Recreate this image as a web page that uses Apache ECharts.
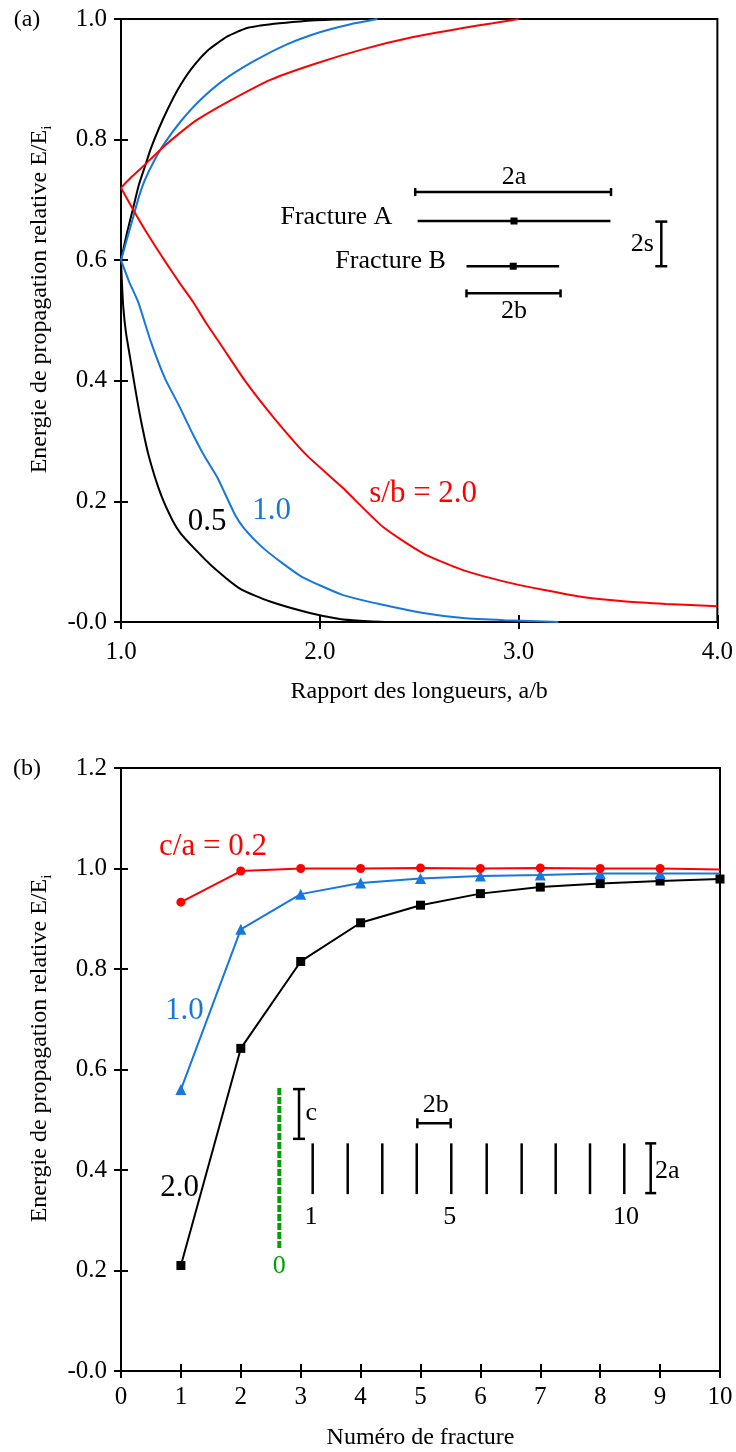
<!DOCTYPE html>
<html><head><meta charset="utf-8">
<script src="https://cdn.jsdelivr.net/npm/echarts@6/dist/echarts.min.js"></script>
<style>html,body{margin:0;padding:0;background:#fff}#c{width:736px;height:1452px}</style>
</head><body><div id="c"></div>
<script>
// ---------- Panel (a) data : a/b ratio vs relative energy ----------
const abBlackUp = [1.0, 1.03, 1.06, 1.09, 1.12, 1.15, 1.19, 1.234, 1.284, 1.351, 1.434, 1.535, 1.635, 1.77, 1.9, 2.07, 2.2];
const eBlackUp  = [0.6, 0.645, 0.685, 0.725, 0.755, 0.785, 0.818, 0.85, 0.882, 0.916, 0.947, 0.971, 0.985, 0.992, 0.996, 0.999, 1.0];
const abBlueUp  = [1.0, 1.03, 1.06, 1.09, 1.12, 1.167, 1.217, 1.30, 1.40, 1.518, 1.668, 1.835, 2.0, 2.15, 2.29];
const eBlueUp   = [0.6, 0.635, 0.67, 0.705, 0.733, 0.765, 0.793, 0.83, 0.866, 0.899, 0.93, 0.958, 0.978, 0.991, 1.0];
const abRedUp   = [1.0, 1.05, 1.1, 1.15, 1.217, 1.30, 1.384, 1.551, 1.751, 1.969, 2.22, 2.47, 2.72, 2.87, 3.0];
const eRedUp    = [0.72, 0.737, 0.752, 0.768, 0.789, 0.812, 0.833, 0.865, 0.899, 0.925, 0.95, 0.97, 0.985, 0.993, 1.0];
const abBlackLo = [1.0, 1.005, 1.012, 1.025, 1.045, 1.07, 1.1, 1.14, 1.2, 1.26, 1.3, 1.36, 1.46, 1.6, 1.75, 1.95, 2.1, 2.2, 2.33];
const eBlackLo  = [0.6, 0.56, 0.52, 0.48, 0.44, 0.39, 0.335, 0.275, 0.212, 0.168, 0.147, 0.125, 0.092, 0.055, 0.034, 0.015, 0.005, 0.002, 0.0];
const abBlueLo  = [1.0, 1.04, 1.087, 1.15, 1.22, 1.29, 1.362, 1.42, 1.484, 1.575, 1.62, 1.707, 1.81, 1.91, 2.114, 2.317, 2.52, 2.72, 2.93, 3.2];
const eBlueLo   = [0.6, 0.565, 0.53, 0.465, 0.405, 0.36, 0.311, 0.275, 0.24, 0.177, 0.155, 0.125, 0.098, 0.075, 0.045, 0.0285, 0.015, 0.0066, 0.003, 0.0];
const abRedLo   = [1.0, 1.059, 1.14, 1.226, 1.30, 1.362, 1.43, 1.504, 1.626, 1.768, 1.93, 2.114, 2.317, 2.52, 2.72, 2.93, 3.13, 3.33, 3.54, 3.74, 4.0];
const eRedLo    = [0.72, 0.685, 0.64, 0.596, 0.56, 0.531, 0.495, 0.459, 0.399, 0.339, 0.278, 0.223, 0.158, 0.114, 0.086, 0.067, 0.053, 0.041, 0.034, 0.03, 0.026];

// ---------- Panel (b) data : fracture number vs relative energy ----------
const fracNo = [1, 2, 3, 4, 5, 6, 7, 8, 9, 10];
const eCa02 = [0.933, 0.995, 1.0, 1.0, 1.001, 1.0, 1.001, 1.0, 1.0, 0.998];
const eCa10 = [0.56, 0.879, 0.949, 0.971, 0.98, 0.985, 0.987, 0.99, 0.99, 0.99];
const eCa20 = [0.21, 0.642, 0.815, 0.892, 0.927, 0.95, 0.963, 0.97, 0.975, 0.979];

// ---------- Text ----------
const xNameA = 'Rapport des longueurs, a/b';
const xNameB = 'Numéro de fracture';
const yName = 'Energie de propagation relative E/E{sub|i}';
const curveLabelsA = ['0.5', '1.0', 's/b = 2.0'];
const curveLabelsB = ['c/a = 0.2', '1.0', '2.0'];

const FONT = '"Liberation Serif", "Times New Roman", "DejaVu Serif", serif';
const RED = '#ff0000', BLUE = '#1677dd', BLACK = '#000000', GREEN = '#00a000';

const chart = echarts.init(document.getElementById('c'), null, {renderer: 'canvas', width: 736, height: 1452});
const zip = (xs, ys) => xs.map((x, i) => [x, ys[i]]);
const fmt1 = v => (Math.abs(v) < 1e-9 ? '-0.0' : v.toFixed(1));

function xAxes(gi, min, max, labFmt, name, nameGap, margin) {
  return [{
    gridIndex: gi, type: 'value', min, max, interval: 1, position: 'bottom',
    axisLine: {onZero: false, lineStyle: {color: '#000', width: 2}},
    axisTick: {show: true, length: 7, lineStyle: {color: '#000', width: 2}},
    axisLabel: {color: '#000', fontFamily: FONT, fontSize: 25, margin, formatter: labFmt},
    splitLine: {show: false},
    name, nameLocation: 'middle', nameGap,
    nameTextStyle: {color: '#000', fontFamily: FONT, fontSize: 24}
  }, {
    gridIndex: gi, type: 'value', min, max, interval: 1, position: 'bottom',
    axisLine: {show: false, onZero: false},
    axisTick: {show: true, inside: true, length: 7, lineStyle: {color: '#000', width: 2}},
    axisLabel: {show: false}, splitLine: {show: false}
  }];
}
function yAxes(gi, max) {
  return [{
    gridIndex: gi, type: 'value', min: 0, max, interval: 0.2, position: 'left',
    axisLine: {onZero: false, lineStyle: {color: '#000', width: 2}},
    axisTick: {show: true, length: 7, lineStyle: {color: '#000', width: 2}},
    axisLabel: {color: '#000', fontFamily: FONT, fontSize: 25, margin: 14, formatter: fmt1},
    splitLine: {show: false},
    name: yName, nameLocation: 'middle', nameGap: 66,
    nameTextStyle: {color: '#000', fontFamily: FONT, fontSize: 24, lineHeight: 30, padding: [0, 0, 0, 42],
      rich: {sub: {fontFamily: FONT, fontSize: 15, lineHeight: 14, verticalAlign: 'bottom'}}}
  }, {
    gridIndex: gi, type: 'value', min: 0, max, interval: 0.2, position: 'left',
    axisLine: {show: false, onZero: false},
    axisTick: {show: true, inside: true, length: 7, lineStyle: {color: '#000', width: 2}},
    axisLabel: {show: false}, splitLine: {show: false}
  }];
}

const lineA = (xs, ys, color) => ({
  type: 'line', xAxisIndex: 0, yAxisIndex: 0, data: zip(xs, ys), showSymbol: false, symbol: 'none',
  smooth: 0.2, lineStyle: {color, width: 2}, silent: true, animation: false
});
const lineB = (ys, color, symbol, size, hideLast) => ({
  type: 'line', xAxisIndex: 2, yAxisIndex: 2,
  data: fracNo.map((x, i) => (hideLast && i === fracNo.length - 1) ? {value: [x, ys[i]], symbol: 'none'} : [x, ys[i]]),
  symbol, symbolSize: size, itemStyle: {color}, lineStyle: {color, width: 2}, clip: false,
  silent: true, animation: false
});

const gridStyle = {show: true, borderColor: '#000', borderWidth: 2, backgroundColor: 'transparent'};
chart.setOption({
  animation: false,
  textStyle: {fontFamily: FONT},
  grid: [
    Object.assign({left: 121, top: 19, width: 598, height: 603}, gridStyle),
    Object.assign({left: 121, top: 768, width: 599, height: 603}, gridStyle)
  ],
  xAxis: [
    ...xAxes(0, 1, 4, v => v.toFixed(1), xNameA, 58, 18),
    ...xAxes(1, 0, 10, v => String(Math.round(v)), xNameB, 55, 14)
  ],
  yAxis: [...yAxes(0, 1.0), ...yAxes(1, 1.2)],
  series: [
    lineA(abBlackUp, eBlackUp, BLACK), lineA(abBlueUp, eBlueUp, BLUE), lineA(abRedUp, eRedUp, RED),
    lineA(abBlackLo, eBlackLo, BLACK), lineA(abBlueLo, eBlueLo, BLUE), lineA(abRedLo, eRedLo, RED),
    lineB(eCa20, BLACK, 'rect', 9, false),
    lineB(eCa10, BLUE, 'triangle', 11, true),
    lineB(eCa02, RED, 'circle', 9, true)
  ]
});

// ---------- Annotations (placed in axis coordinates) ----------
const pA = (x, y) => chart.convertToPixel({gridIndex: 0}, [x, y]);
const pB = (x, y) => chart.convertToPixel({gridIndex: 1}, [x, y]);
const g = [];
function seg(p1, p2, color, w, dash) {
  g.push({type: 'line', silent: true, z: 100,
    shape: {x1: p1[0], y1: p1[1], x2: p2[0], y2: p2[1]},
    style: {stroke: color, lineWidth: w, lineDash: dash || null}});
}
function txt(p, s, color, size, align) {
  g.push({type: 'text', silent: true, z: 100, x: p[0], y: p[1],
    style: {text: s, fill: color, fontSize: size, fontFamily: FONT,
      textAlign: align || 'center', textVerticalAlign: 'middle', verticalAlign: 'middle'}});
}
function hbar(p1, p2, cap, w) {
  seg(p1, p2, '#000', w); seg([p1[0], p1[1] - cap], [p1[0], p1[1] + cap], '#000', w);
  seg([p2[0], p2[1] - cap], [p2[0], p2[1] + cap], '#000', w);
}
function vbar(p1, p2, cap, w) {
  seg(p1, p2, '#000', w); seg([p1[0] - cap, p1[1]], [p1[0] + cap, p1[1]], '#000', w);
  seg([p2[0] - cap, p2[1]], [p2[0] + cap, p2[1]], '#000', w);
}
function sq(p, s) {
  g.push({type: 'rect', silent: true, z: 101, shape: {x: p[0] - s / 2, y: p[1] - s / 2, width: s, height: s}, style: {fill: '#000'}});
}

const ANN = 26, CUR = 31;
// panel (a) schematic
hbar(pA(2.48, 0.713), pA(3.465, 0.713), 4, 2.5);
txt(pA(2.977, 0.737), '2a', '#000', ANN);
seg(pA(2.492, 0.665), pA(3.462, 0.665), '#000', 2.5); sq(pA(2.977, 0.665), 7);
txt(pA(2.365, 0.672), 'Fracture A', '#000', ANN, 'right');
seg(pA(2.738, 0.59), pA(3.204, 0.59), '#000', 2.5); sq(pA(2.973, 0.59), 7);
txt(pA(2.634, 0.599), 'Fracture B', '#000', ANN, 'right');
hbar(pA(2.738, 0.545), pA(3.211, 0.545), 4, 2.5);
txt(pA(2.977, 0.515), '2b', '#000', ANN);
vbar(pA(3.718, 0.664), pA(3.718, 0.59), 6, 2.5);
txt(pA(3.68, 0.627), '2s', '#000', ANN, 'right');
// panel (a) curve labels
txt(pA(1.433, 0.166), curveLabelsA[0], BLACK, CUR);
txt(pA(1.758, 0.185), curveLabelsA[1], BLUE, CUR);
txt(pA(2.52, 0.212), curveLabelsA[2], RED, CUR);

// panel (b) schematic
seg(pB(2.643, 0.563), pB(2.643, 0.243), GREEN, 4, [7, 2]);
txt(pB(2.643, 0.209), '0', GREEN, ANN);
vbar(pB(2.972, 0.561), pB(2.972, 0.462), 6, 2.5);
txt(pB(3.08, 0.513), 'c', '#000', ANN, 'left');
const fracPos = [3.20, 3.785, 4.362, 4.937, 5.514, 6.105, 6.689, 7.257, 7.83, 8.402];
fracPos.forEach(x => seg(pB(x, 0.453), pB(x, 0.352), '#000', 2.5));
txt(pB(3.17, 0.307), '1', '#000', ANN);
txt(pB(5.487, 0.307), '5', '#000', ANN);
txt(pB(8.43, 0.307), '10', '#000', ANN);
hbar(pB(4.947, 0.493), pB(5.504, 0.493), 5, 2.5);
txt(pB(5.254, 0.53), '2b', '#000', ANN);
vbar(pB(8.843, 0.453), pB(8.843, 0.354), 5.5, 2.5);
txt(pB(8.915, 0.397), '2a', '#000', ANN, 'left');
// panel (b) curve labels
txt(pB(1.536, 1.044), curveLabelsB[0], RED, CUR);
txt(pB(1.06, 0.717), curveLabelsB[1], BLUE, CUR);
txt(pB(0.98, 0.364), curveLabelsB[2], BLACK, CUR);

// panel letters
g.push({type: 'text', silent: true, x: 27, y: 20, style: {text: '(a)', fill: '#000', fontSize: 24, fontFamily: FONT, textAlign: 'center', textVerticalAlign: 'middle', verticalAlign: 'middle'}});
g.push({type: 'text', silent: true, x: 27, y: 769, style: {text: '(b)', fill: '#000', fontSize: 24, fontFamily: FONT, textAlign: 'center', textVerticalAlign: 'middle', verticalAlign: 'middle'}});

chart.setOption({graphic: g});
</script>
</body></html>
